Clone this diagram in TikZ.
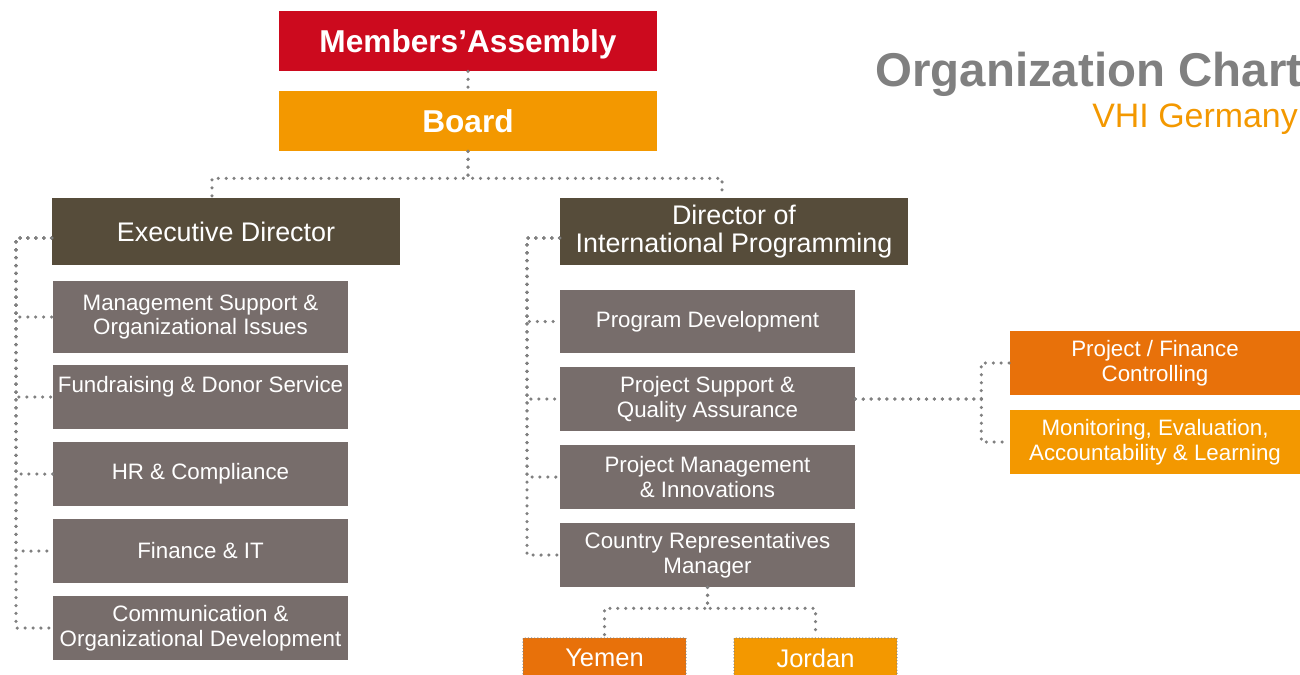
\documentclass[tikz,border=0pt]{standalone}
\usepackage{fontspec}
\setmainfont{Liberation Sans}
\definecolor{vhired}{RGB}{204,10,30}
\definecolor{vhiorange}{RGB}{243,152,0}
\definecolor{vhidark}{RGB}{232,113,10}
\definecolor{vhibrown}{RGB}{86,76,58}
\definecolor{vhigray}{RGB}{119,109,107}
\definecolor{vhidots}{RGB}{128,128,128}
\definecolor{vhititle}{RGB}{128,128,128}
\usetikzlibrary{positioning}

\begin{document}
\begin{tikzpicture}[x=0.02cm, y=-0.02cm,
    topbox/.style={text=white, align=center, inner sep=0pt, minimum width=7.56cm, minimum height=1.2cm, font=\bfseries\fontsize{18}{20}\selectfont},
    headbox/.style={fill=vhibrown, text=white, align=center, inner sep=0pt, minimum width=6.96cm, minimum height=1.34cm, font=\fontsize{15.3}{15.6}\selectfont},
    unitbox/.style={fill=vhigray, text=white, align=center, inner sep=0pt, minimum width=5.9cm, minimum height=1.28cm, font=\fontsize{12.7}{14.2}\selectfont},
    sidebox/.style={text=white, align=center, inner sep=0pt, minimum width=5.8cm, minimum height=1.28cm, font=\fontsize{12.7}{14.2}\selectfont},
    countrybox/.style={draw=vhidots, line width=0.8pt, dash pattern=on 0pt off 1.8pt, line cap=round, text=white, inner sep=0pt, minimum width=3.26cm, minimum height=0.8cm, font=\fontsize{14.5}{16}\selectfont},
    dots/.style={draw=vhidots, line width=2pt, line cap=round, dash pattern=on 0pt off 4.5pt}]
  \useasboundingbox (0,0) rectangle (1300,674);
  \clip (0,0) rectangle (1300,674);

  % Title
  \node[anchor=base west, inner sep=0pt, text=vhititle, font=\bfseries\fontsize{27}{29}\selectfont] (title) at (875,86) {Organization Chart};
  \node[anchor=base west, inner sep=0pt, text=vhiorange, font=\fontsize{19.3}{21}\selectfont] (subtitle) at (1092,127) {VHI Germany};

  % Top level
  \node[topbox, fill=vhired, text depth=0pt] (assembly) at (468,41) {Members’Assembly};
  \node[topbox, fill=vhiorange] (board) at (468,121) {Board};

  % Directors
  \node[headbox] (exec) at (226,231.5) {Executive Director};
  \node[headbox] (dip) at (734,231.5) {Director of\\International Programming};

  % Executive units
  \node[unitbox, minimum height=1.44cm] (mgmt) at (200.5,317) {Management Support \&\\Organizational Issues};
  \node[unitbox] (fund) at (200.5,397) {Fundraising \& Donor Service\\\mbox{}};
  \node[unitbox] (hr) at (200.5,474) {HR \& Compliance};
  \node[unitbox] (fin) at (200.5,551) {Finance \& IT};
  \node[unitbox] (comm) at (200.5,628) {Communication \&\\Organizational Development};

  % Programming units
  \node[unitbox, minimum height=1.26cm] (pd) at (707.5,321.5) {Program Development};
  \node[unitbox] (psqa) at (707.5,399) {Project Support \&\\Quality Assurance};
  \node[unitbox] (pmi) at (707.5,477) {Project Management\\\& Innovations};
  \node[unitbox] (crm) at (707.5,555) {Country Representatives\\Manager};

  % Quality units
  \node[sidebox, fill=vhidark] (pfc) at (1155,363) {Project / Finance\\Controlling};
  \node[sidebox, fill=vhiorange] (mel) at (1155,442) {Monitoring, Evaluation,\\Accountability \& Learning};

  % Countries
  \node[countrybox, fill=vhidark] (yemen) at (604.5,658) {Yemen};
  \node[countrybox, fill=vhiorange] (jordan) at (815.5,658) {Jordan};

  % Connectors
  \draw[dots] (assembly.south) -- (board.north);
  \draw[dots] (board.south) -- ++(0,27) -| ([xshift=-0.28cm]exec.north);
  \draw[dots] (board.south) -- ++(0,27) -| ([xshift=-0.24cm]dip.north);
  \coordinate (lspine) at (16,238);
  \coordinate (rspine) at (527,238);
  \foreach \n in {mgmt,fund,hr,fin,comm}
    \draw[dots] (exec.west |- lspine) -- (lspine) |- (\n.west);
  \foreach \n in {pd,psqa,pmi,crm}
    \draw[dots] (dip.west |- rspine) -- (rspine) |- (\n.west);
  \draw[dots] (psqa.east) -- ++(126,0) |- (pfc.west);
  \draw[dots] (psqa.east) -- ++(126,0) |- (mel.west);
  \draw[dots] (crm.south) -- ++(0,21) -| (yemen.north);
  \draw[dots] (crm.south) -- ++(0,21) -| (jordan.north);
\end{tikzpicture}
\end{document}
